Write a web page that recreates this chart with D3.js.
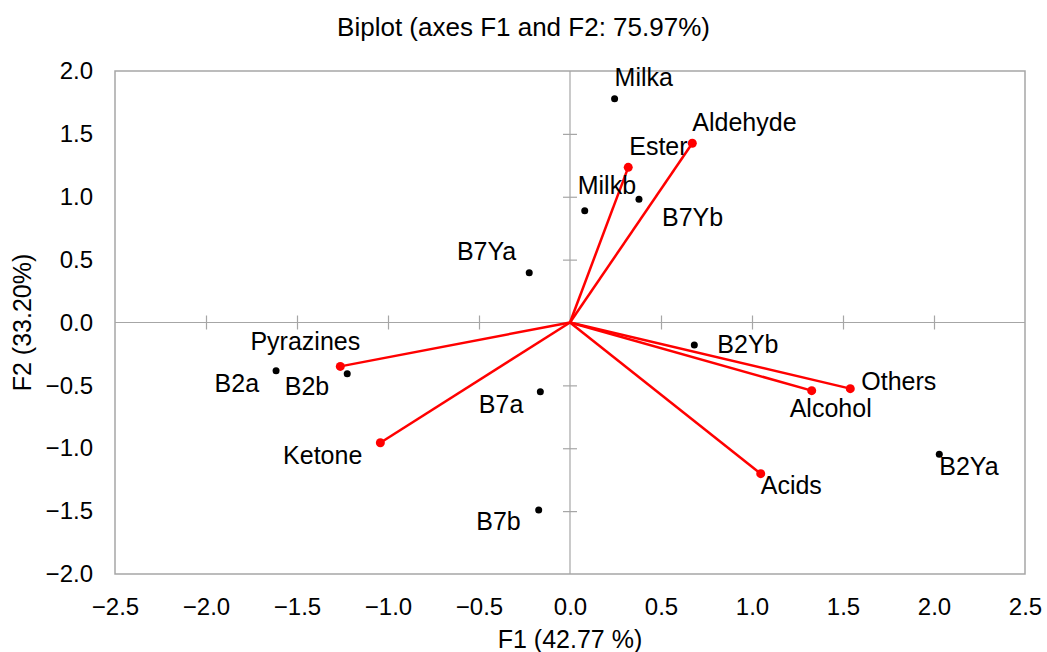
<!DOCTYPE html>
<html>
<head>
<meta charset="utf-8">
<script src="https://cdn.jsdelivr.net/npm/d3@7"></script>
<style>
  body { margin: 0; background: #fff; }
  text { font-family: Arial, "Liberation Sans", sans-serif; fill: #000; }
</style>
</head>
<body>
<div id="chart"></div>
<script>
// observations (black points)
var obsNames = ["Milka", "Milkb", "B7Yb", "B7Ya", "B2Yb", "B2Ya", "B2a", "B2b", "B7a", "B7b"];
var obsF1 = [0.245, 0.081, 0.379, -0.224, 0.683, 2.029, -1.615, -1.224, -0.163, -0.172];
var obsF2 = [1.780, 0.889, 0.980, 0.396, -0.179, -1.048, -0.383, -0.407, -0.550, -1.491];

// variables (red vectors)
var varNames = ["Ester", "Aldehyde", "Pyrazines", "Ketone", "Alcohol", "Others", "Acids"];
var varF1 = [0.320, 0.672, -1.262, -1.042, 1.328, 1.540, 1.048];
var varF2 = [1.234, 1.425, -0.349, -0.956, -0.542, -0.526, -1.202];

var ticksX = [-2.5, -2, -1.5, -1, -0.5, 0, 0.5, 1, 1.5, 2, 2.5];
var ticksY = [-2, -1.5, -1, -0.5, 0, 0.5, 1, 1.5, 2];

// label placement relative to the point: [anchor, dx, dy]
var labelPos = {
  Milka: ["start", 0, -13], Milkb: ["start", -7, -17], B7Yb: ["start", 23, 27],
  B7Ya: ["end", -13, -13], B2Yb: ["start", 23, 8], B2Ya: ["start", 0, 21],
  B2a: ["end", -17, 21], B2b: ["end", -18, 21], B7a: ["end", -17, 21], B7b: ["end", -18, 20],
  Ester: ["start", 1, -12], Aldehyde: ["start", 0, -12], Pyrazines: ["middle", -35, -16],
  Ketone: ["end", -18, 21], Alcohol: ["start", -22, 26], Others: ["start", 11, 1],
  Acids: ["start", 0, 20]
};

var W = 1047, H = 652;
var margin = {top: 71, right: 22, bottom: 78, left: 115},
    width = W - margin.left - margin.right,
    height = H - margin.top - margin.bottom;

var svg = d3.select("#chart").append("svg")
    .attr("width", W)
    .attr("height", H);

var g = svg.append("g")
    .attr("transform", "translate(" + margin.left + "," + margin.top + ")");

var x = d3.scaleLinear().domain([-2.5, 2.5]).range([0, width]);
var y = d3.scaleLinear().domain([-2, 2]).range([height, 0]);

var gray = "#a6a6a6";

// title
svg.append("text")
  .attr("x", W / 2).attr("y", 36)
  .attr("text-anchor", "middle")
  .style("font-size", "26px")
  .text("Biplot (axes F1 and F2: 75.97%)");

// frame
g.append("rect")
  .attr("width", width).attr("height", height)
  .attr("fill", "none").attr("stroke", gray).attr("stroke-width", 1.5);

// zero lines with crossing ticks
var tx = ticksX.filter(function(d) { return d !== 0 && Math.abs(d) < 2.5; });
var ty = ticksY.filter(function(d) { return d !== 0 && Math.abs(d) < 2; });

[d3.axisBottom, d3.axisTop].forEach(function(ax) {
  var a = g.append("g")
    .attr("transform", "translate(0," + y(0) + ")")
    .call(ax(x).tickValues(tx).tickSize(7).tickFormat(""));
  a.select(".domain").remove();
  a.selectAll("line").attr("stroke", gray).attr("stroke-width", 1.2);
});
[d3.axisLeft, d3.axisRight].forEach(function(ax) {
  var a = g.append("g")
    .attr("transform", "translate(" + x(0) + ",0)")
    .call(ax(y).tickValues(ty).tickSize(7).tickFormat(""));
  a.select(".domain").remove();
  a.selectAll("line").attr("stroke", gray).attr("stroke-width", 1.2);
});
g.append("line")
  .attr("x1", 0).attr("x2", width).attr("y1", y(0)).attr("y2", y(0))
  .attr("stroke", gray).attr("stroke-width", 1.2);
g.append("line")
  .attr("x1", x(0)).attr("x2", x(0)).attr("y1", 0).attr("y2", height)
  .attr("stroke", gray).attr("stroke-width", 1.2);

// tick labels on the frame
var fmt = d3.format(".1f");
var xa = g.append("g")
  .attr("transform", "translate(0," + height + ")")
  .call(d3.axisBottom(x).tickValues(ticksX).tickSize(0).tickPadding(24).tickFormat(fmt));
xa.select(".domain").remove();
xa.selectAll("text").style("font-size", "24px");

var ya = g.append("g")
  .call(d3.axisLeft(y).tickValues(ticksY).tickSize(0).tickPadding(22).tickFormat(fmt));
ya.select(".domain").remove();
ya.selectAll("text").style("font-size", "24px");

// axis titles
svg.append("text")
  .attr("x", margin.left + width / 2).attr("y", 648)
  .attr("text-anchor", "middle")
  .style("font-size", "25px")
  .text("F1 (42.77 %)");

svg.append("text")
  .attr("transform", "translate(31," + (margin.top + height / 2) + ") rotate(-90)")
  .attr("text-anchor", "middle")
  .style("font-size", "25px")
  .text("F2 (33.20%)");

// vectors
var vars = varNames.map(function(n, i) { return {name: n, f1: varF1[i], f2: varF2[i]}; });
var obs = obsNames.map(function(n, i) { return {name: n, f1: obsF1[i], f2: obsF2[i]}; });

g.selectAll(".vec").data(vars).enter().append("line")
  .attr("x1", x(0)).attr("y1", y(0))
  .attr("x2", function(d) { return x(d.f1); })
  .attr("y2", function(d) { return y(d.f2); })
  .attr("stroke", "#ff0000").attr("stroke-width", 2.5);

g.selectAll(".vpt").data(vars).enter().append("circle")
  .attr("cx", function(d) { return x(d.f1); })
  .attr("cy", function(d) { return y(d.f2); })
  .attr("r", 4.5).attr("fill", "#ff0000");

g.selectAll(".opt").data(obs).enter().append("circle")
  .attr("cx", function(d) { return x(d.f1); })
  .attr("cy", function(d) { return y(d.f2); })
  .attr("r", 3.5).attr("fill", "#000");

// labels
g.selectAll(".lbl").data(obs.concat(vars)).enter().append("text")
  .attr("x", function(d) { return x(d.f1) + labelPos[d.name][1]; })
  .attr("y", function(d) { return y(d.f2) + labelPos[d.name][2]; })
  .attr("text-anchor", function(d) { return labelPos[d.name][0]; })
  .style("font-size", "25px")
  .text(function(d) { return d.name; });
</script>
</body>
</html>
